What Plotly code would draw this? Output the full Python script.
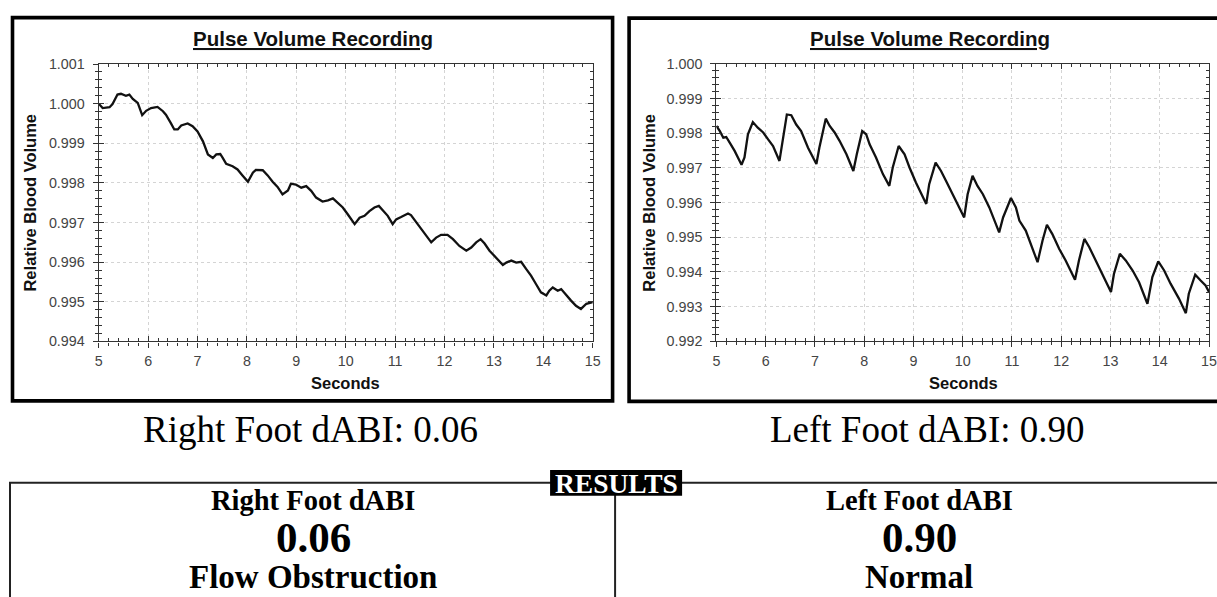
import plotly.graph_objects as go

W, H = 1217, 597

# ---------------- data ----------------
right_foot_t = [5.00, 5.08, 5.22, 5.28, 5.38, 5.45, 5.55, 5.62, 5.69, 5.79, 5.88, 5.96, 6.06, 6.19, 6.30,
                6.36, 6.46, 6.53, 6.60, 6.67, 6.80, 6.90, 7.00, 7.11, 7.21, 7.31, 7.38, 7.46, 7.51, 7.58,
                7.71, 7.81, 7.91, 8.02, 8.12, 8.18, 8.32, 8.42, 8.52, 8.62, 8.72, 8.83, 8.89, 8.99, 9.10,
                9.20, 9.30, 9.40, 9.53, 9.64, 9.74, 9.84, 9.94, 10.04, 10.18, 10.28, 10.38, 10.48, 10.58,
                10.67, 10.75, 10.85, 10.95, 11.02, 11.12, 11.26, 11.32, 11.42, 11.52, 11.63, 11.73, 11.83,
                11.93, 12.06, 12.17, 12.30, 12.44, 12.54, 12.64, 12.73, 12.81, 12.91, 13.01, 13.08, 13.18,
                13.25, 13.35, 13.45, 13.55, 13.65, 13.75, 13.85, 13.95, 14.06, 14.12, 14.19, 14.29, 14.36,
                14.46, 14.56, 14.66, 14.76, 14.87, 15.00]
right_foot_v = [1.00000, 0.99989, 0.99991, 0.99999, 1.00023, 1.00025, 1.00020, 1.00023, 1.00012, 1.00002,
                0.99971, 0.99982, 0.99989, 0.99992, 0.99981, 0.99972, 0.99951, 0.99935, 0.99935, 0.99945,
                0.99950, 0.99943, 0.99930, 0.99905, 0.99872, 0.99863, 0.99872, 0.99873, 0.99863, 0.99848,
                0.99842, 0.99834, 0.99819, 0.99803, 0.99826, 0.99833, 0.99832, 0.99819, 0.99803, 0.99790,
                0.99771, 0.99781, 0.99798, 0.99796, 0.99788, 0.99792, 0.99780, 0.99763, 0.99753, 0.99756,
                0.99761, 0.99750, 0.99738, 0.99721, 0.99696, 0.99712, 0.99717, 0.99729, 0.99738, 0.99742,
                0.99731, 0.99717, 0.99696, 0.99708, 0.99714, 0.99723, 0.99719, 0.99702, 0.99683, 0.99666,
                0.99650, 0.99662, 0.99669, 0.99669, 0.99658, 0.99641, 0.99629, 0.99637, 0.99650, 0.99658,
                0.99647, 0.99629, 0.99616, 0.99605, 0.99593, 0.99599, 0.99604, 0.99599, 0.99601, 0.99583,
                0.99566, 0.99545, 0.99524, 0.99516, 0.99528, 0.99536, 0.99528, 0.99532, 0.99517, 0.99503,
                0.99490, 0.99482, 0.99495, 0.99499]

left_foot_t = [5.00, 5.07, 5.14, 5.20, 5.27, 5.37, 5.51, 5.57, 5.64, 5.74, 5.84, 5.95, 6.05, 6.15, 6.28,
               6.35, 6.43, 6.52, 6.62, 6.72, 6.86, 7.03, 7.09, 7.22, 7.30, 7.40, 7.50, 7.64, 7.78, 7.85,
               7.96, 8.04, 8.11, 8.24, 8.38, 8.51, 8.58, 8.70, 8.82, 8.92, 9.05, 9.26, 9.32, 9.45, 9.56,
               9.66, 9.80, 10.03, 10.10, 10.20, 10.30, 10.41, 10.54, 10.74, 10.82, 10.98, 11.08, 11.15,
               11.28, 11.52, 11.62, 11.71, 11.82, 11.96, 12.09, 12.28, 12.36, 12.47, 12.57, 12.70, 12.84,
               13.01, 13.07, 13.19, 13.31, 13.45, 13.58, 13.75, 13.85, 13.97, 14.09, 14.22, 14.39, 14.53,
               14.59, 14.72, 14.83, 14.93, 15.00]
left_foot_v = [0.99821, 0.99806, 0.99787, 0.99789, 0.99773, 0.99749, 0.99709, 0.99730, 0.99797, 0.99832,
               0.99816, 0.99802, 0.99782, 0.99763, 0.99720, 0.99778, 0.99854, 0.99852, 0.99825, 0.99806,
               0.99758, 0.99711, 0.99758, 0.99842, 0.99821, 0.99802, 0.99778, 0.99739, 0.99691, 0.99739,
               0.99806, 0.99797, 0.99768, 0.99730, 0.99682, 0.99648, 0.99701, 0.99763, 0.99739, 0.99701,
               0.99658, 0.99596, 0.99653, 0.99715, 0.99691, 0.99663, 0.99624, 0.99557, 0.99624, 0.99677,
               0.99648, 0.99624, 0.99586, 0.99514, 0.99557, 0.99613, 0.99586, 0.99548, 0.99519, 0.99428,
               0.99490, 0.99536, 0.99509, 0.99466, 0.99433, 0.99377, 0.99433, 0.99495, 0.99471, 0.99433,
               0.99394, 0.99342, 0.99394, 0.99452, 0.99433, 0.99404, 0.99370, 0.99308, 0.99385, 0.99430,
               0.99404, 0.99366, 0.99323, 0.99281, 0.99337, 0.99392, 0.99375, 0.99361, 0.99342]

x_tick_vals = [5, 6, 7, 8, 9, 10, 11, 12, 13, 14, 15]
right_foot_y_ticks = [0.994, 0.995, 0.996, 0.997, 0.998, 0.999, 1.000, 1.001]
left_foot_y_ticks = [0.992, 0.993, 0.994, 0.995, 0.996, 0.997, 0.998, 0.999, 1.000]

chart_title = "Pulse Volume Recording"
x_title = "Seconds"
y_title = "Relative Blood Volume"
captions = ["Right Foot dABI: 0.06", "Left Foot dABI: 0.90"]
result_heads = ["Right Foot dABI", "Left Foot dABI"]
result_values = ["0.06", "0.90"]
result_status = ["Flow Obstruction", "Normal"]
results_label = "RESULTS"

# ---------------- layout helpers ----------------
# target pixel positions (as seen in the final picture) -> paper coordinates
def px(p):
    return min(max((p - 3.0) / 0.99 / W, -0.05), 1.05)

def py(p):
    return 1 - (p - 6.3) / 0.979 / H

def clamp01(v):
    return min(max(v, 0.0), 1.0)

SANS = "Liberation Sans, Arial, sans-serif"
SERIF = "Liberation Serif, Times New Roman, serif"

fig = go.Figure()

fig.add_trace(go.Scatter(x=right_foot_t, y=right_foot_v, mode="lines",
                         line=dict(color="#111111", width=2.3), xaxis="x", yaxis="y",
                         showlegend=False, hoverinfo="skip"))
fig.add_trace(go.Scatter(x=left_foot_t, y=left_foot_v, mode="lines",
                         line=dict(color="#111111", width=2.3), xaxis="x2", yaxis="y2",
                         showlegend=False, hoverinfo="skip"))
# empty traces to activate the overlay (inside-tick) axes
fig.add_trace(go.Scatter(x=[], y=[], xaxis="x3", yaxis="y3", showlegend=False))
fig.add_trace(go.Scatter(x=[], y=[], xaxis="x4", yaxis="y4", showlegend=False))

panels = [
    dict(xd=[clamp01(px(97.7)), clamp01(px(591.7))], yd=[py(341.7), py(62.7)],
         yr=[0.994, 1.001], yt=right_foot_y_ticks),
    dict(xd=[clamp01(px(715.3)), clamp01(px(1208.7))], yd=[py(341.5), py(62.5)],
         yr=[0.992, 1.000], yt=left_foot_y_ticks),
]

AX = "#333333"
TICKFONT = dict(family=SANS, size=14.3, color="#444444")
layout_axes = {}
for i, p in enumerate(panels):
    n = i + 1
    xs = "" if n == 1 else str(n)
    ov = str(n + 2)
    ymain = "y" + xs
    xmain = "x" + xs
    layout_axes["xaxis" + xs] = dict(
        domain=p["xd"], anchor=ymain, range=[5, 15], tickvals=x_tick_vals,
        ticks="outside", ticklen=5, tickwidth=1.2, tickcolor=AX,
        minor=dict(ticks="outside", ticklen=3, dtick=0.2, tickcolor=AX, tickwidth=1),
        showline=True, linecolor=AX, linewidth=1.3, mirror=True,
        showgrid=True, gridcolor="#d4d4d4", griddash="dot", gridwidth=1,
        zeroline=False, tickfont=TICKFONT, ticklabelstandoff=1, fixedrange=True)
    layout_axes["yaxis" + xs] = dict(
        domain=p["yd"], anchor=xmain, range=p["yr"], tickvals=p["yt"], tickformat=".3f",
        ticks="outside", ticklen=5, tickwidth=1.2, tickcolor=AX,
        minor=dict(ticks="outside", ticklen=3, dtick=0.0002, tickcolor=AX, tickwidth=1),
        showline=True, linecolor=AX, linewidth=1.3, mirror=True,
        showgrid=True, gridcolor="#d4d4d4", griddash="dot", gridwidth=1,
        zeroline=False, tickfont=TICKFONT, ticklabelstandoff=5, fixedrange=True)
    layout_axes["xaxis" + ov] = dict(
        overlaying=xmain, anchor="y" + ov, range=[5, 15], tickvals=x_tick_vals,
        ticks="inside", ticklen=5, tickwidth=1.2, tickcolor=AX, mirror="allticks",
        minor=dict(ticks="inside", ticklen=3, dtick=0.2, tickcolor=AX, tickwidth=1),
        showline=False, showgrid=False, zeroline=False, showticklabels=False, fixedrange=True)
    layout_axes["yaxis" + ov] = dict(
        overlaying=ymain, anchor="x" + ov, range=p["yr"], tickvals=p["yt"],
        ticks="inside", ticklen=5, tickwidth=1.2, tickcolor=AX, mirror="allticks",
        minor=dict(ticks="inside", ticklen=3, dtick=0.0002, tickcolor=AX, tickwidth=1),
        showline=False, showgrid=False, zeroline=False, showticklabels=False, fixedrange=True)

# ---------------- shapes ----------------
shapes = []
# chart frames
shapes.append(dict(type="rect", xref="paper", yref="paper", x0=px(11.5), x1=px(611.5),
                   y0=py(401.5), y1=py(16), line=dict(color="black", width=3.6)))
shapes.append(dict(type="rect", xref="paper", yref="paper", x0=px(628), x1=px(1235),
                   y0=py(402), y1=py(16.5), line=dict(color="black", width=3.6)))
# results box lines
shapes.append(dict(type="line", xref="paper", yref="paper", x0=px(8), x1=px(1235),
                   y0=py(484), y1=py(484), line=dict(color="#222222", width=2)))
shapes.append(dict(type="line", xref="paper", yref="paper", x0=px(9), x1=px(9),
                   y0=py(484), y1=py(610), line=dict(color="#222222", width=2)))
shapes.append(dict(type="line", xref="paper", yref="paper", x0=px(614), x1=px(614),
                   y0=py(484), y1=py(610), line=dict(color="#222222", width=2)))
# black label box behind RESULTS
shapes.append(dict(type="rect", xref="paper", yref="paper", x0=px(549), x1=px(681),
                   y0=py(497), y1=py(471), fillcolor="black", line=dict(width=0)))

# ---------------- annotations ----------------
ann = []
centers_chart = [312, 929]
axis_title_x = [29, 647]
plot_mid_x = [(97.7 + 591.7) / 2, (715.3 + 1208.7) / 2]
for i in range(2):
    ann.append(dict(text="<b><u>" + chart_title + "</u></b>", x=px(centers_chart[i]), y=py(37),
                    xref="paper", yref="paper", showarrow=False, xanchor="center", yanchor="middle",
                    font=dict(family=SANS, size=20.5, color="#111111")))
    ann.append(dict(text="<b>" + x_title + "</b>", x=px(plot_mid_x[i]), y=py(384),
                    xref="paper", yref="paper", showarrow=False, xanchor="center", yanchor="middle",
                    font=dict(family=SANS, size=16.5, color="#111111")))
    ann.append(dict(text="<b>" + y_title + "</b>", x=px(axis_title_x[i]), y=py(202), textangle=-90,
                    xref="paper", yref="paper", showarrow=False, xanchor="center", yanchor="middle",
                    font=dict(family=SANS, size=16.5, color="#111111")))

caption_x = [309, 926]
result_x = [312, 918]
for i in range(2):
    ann.append(dict(text=captions[i], x=px(caption_x[i]), y=py(430), xref="paper", yref="paper",
                    showarrow=False, xanchor="center", yanchor="middle",
                    font=dict(family=SERIF, size=37, color="black")))
    ann.append(dict(text="<b>" + result_heads[i] + "</b>", x=px(result_x[i]), y=py(502),
                    xref="paper", yref="paper", showarrow=False, xanchor="center", yanchor="middle",
                    font=dict(family=SERIF, size=28.5, color="black")))
    ann.append(dict(text="<b>" + result_values[i] + "</b>", x=px(result_x[i]), y=py(539),
                    xref="paper", yref="paper", showarrow=False, xanchor="center", yanchor="middle",
                    font=dict(family=SERIF, size=43, color="black")))
    ann.append(dict(text="<b>" + result_status[i] + "</b>", x=px(result_x[i]), y=py(578.5),
                    xref="paper", yref="paper", showarrow=False, xanchor="center", yanchor="middle",
                    font=dict(family=SERIF, size=33, color="black")))

ann.append(dict(text="<b>" + results_label + "</b>", x=px(615), y=py(484.5), xref="paper", yref="paper",
                showarrow=False, xanchor="center", yanchor="middle",
                font=dict(family=SERIF, size=27.5, color="white")))

fig.update_layout(
    width=W, height=H, autosize=False,
    margin=dict(l=0, r=0, t=0, b=0),
    paper_bgcolor="white", plot_bgcolor="white",
    showlegend=False,
    shapes=shapes, annotations=ann,
    **layout_axes,
)

PAGE_FIX = (
    "document.documentElement.style.margin='0';document.documentElement.style.padding='0';"
    "document.documentElement.style.overflow='hidden';"
    "document.body.style.margin='0';document.body.style.padding='0';document.body.style.overflow='hidden';"
    "var gd=document.querySelector('.plotly-graph-div');"
    "if(gd){gd.style.position='fixed';gd.style.left='0px';gd.style.top='0px';}"
)

fig.write_html("out.html", config={"displayModeBar": False}, post_script=PAGE_FIX)
